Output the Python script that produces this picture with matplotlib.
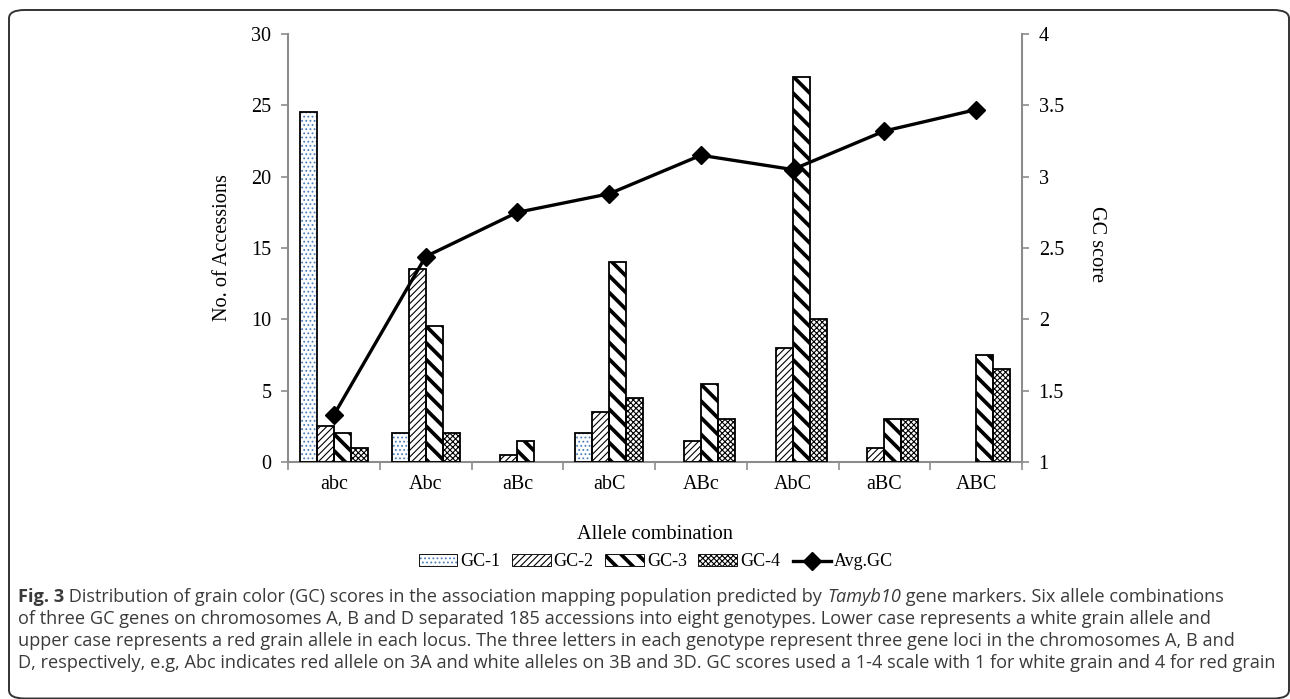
import matplotlib.pyplot as plt
import numpy as np
from matplotlib.patches import FancyBboxPatch, Rectangle
from matplotlib.legend_handler import HandlerTuple

# data
combos = ["abc", "Abc", "aBc", "abC", "ABc", "AbC", "aBC", "ABC"]
gc1 = [24.5, 2, 0, 2, 0, 0, 0, 0]
gc2 = [2.5, 13.5, 0.5, 3.5, 1.5, 8, 1, 0]
gc3 = [2, 9.5, 1.5, 14, 5.5, 27, 3, 7.5]
gc4 = [1, 2, 0, 4.5, 3, 10, 3, 6.5]
avg_gc = [1.33, 2.44, 2.75, 2.88, 3.15, 3.05, 3.32, 3.47]

serif = "Liberation Serif"
sans = "Open Sans"
grey = "#8c8c8c"

fig = plt.figure(figsize=(12.9, 6.99), dpi=100)
W, H = 1290, 699

ax = fig.add_axes([288 / W, 1 - 462 / H, (1022 - 288) / W, (462 - 34) / H])
ax2 = ax.twinx()

x = np.arange(len(combos))
w = 0.185


def bars(vals, k, hatch, hcolor="black", hlw=0.8):
    vals = np.array(vals, dtype=float)
    keep = vals > 0
    xs = x[keep] + (k - 1.5) * w
    b = ax.bar(xs, vals[keep], w, facecolor="white", edgecolor=hcolor,
               hatch=hatch, linewidth=0, zorder=2)
    o = ax.bar(xs, vals[keep], w, fill=False, edgecolor="black",
               linewidth=1.3, zorder=3)
    for p in b:
        p.set_hatch_linewidth(hlw)
    return b, o


h1 = bars(gc1, 0, "....", "#4a7ebb")
h2 = bars(gc2, 1, "/////")
h3 = bars(gc3, 2, "\\\\", hlw=2.7)
h4 = bars(gc4, 3, "xxxxxx")

line, = ax2.plot(x, avg_gc, color="black", lw=2.4, marker="D", markersize=9,
                 zorder=5)
ax.set_zorder(ax2.get_zorder() - 1)
ax2.patch.set_visible(False)

ax.set_xlim(-0.5, len(combos) - 0.5)
ax.set_ylim(0, 30)
ax2.set_ylim(1, 4)
ax.set_yticks(range(0, 31, 5))
ax2.set_yticks([1, 1.5, 2, 2.5, 3, 3.5, 4])
ax2.set_yticklabels(["1", "1.5", "2", "2.5", "3", "3.5", "4"])
ax.set_xticks(x)
ax.set_xticklabels(combos)
ax.set_xticks(np.arange(-0.5, len(combos)), minor=True)

for a in (ax, ax2):
    a.spines["top"].set_visible(False)
    for s in ("left", "right", "bottom"):
        a.spines[s].set_color(grey)
        a.spines[s].set_linewidth(1.5)
ax.spines["right"].set_visible(False)
ax2.spines["left"].set_visible(False)
ax2.spines["bottom"].set_visible(False)

ax.tick_params(axis="y", colors=grey, labelcolor="black", length=5, width=1.2,
               labelsize=14.5, pad=7)
ax2.tick_params(axis="y", colors=grey, labelcolor="black", length=5, width=1.2,
                labelsize=14.5, pad=7)
ax.tick_params(axis="x", which="major", length=0, labelsize=14.5, pad=9.5)
ax.tick_params(axis="x", which="minor", colors=grey, length=6, width=1.2)
for t in ax.get_xticklabels() + ax.get_yticklabels() + ax2.get_yticklabels():
    t.set_fontfamily(serif)

ax.set_ylabel("No. of Accessions", fontfamily=serif, fontsize=14.6, labelpad=14)
ax2.set_ylabel("GC score", fontfamily=serif, fontsize=14.6, rotation=-90,
               va="center", ha="center")
ax2.yaxis.set_label_coords((1097 - 288) / 734, 0.51)
ax.set_xlabel("Allele combination", fontfamily=serif, fontsize=14.6, labelpad=22)

leg = fig.legend([h1[::-1], h2[::-1], h3[::-1], h4[::-1], line],
                 ["GC-1", "GC-2", "GC-3", "GC-4", "Avg.GC"],
                 handler_map={tuple: HandlerTuple(ndivide=1)},
                 loc="center", bbox_to_anchor=(656 / W, 1 - 562 / H), ncol=5,
                 frameon=False, prop={"family": serif, "size": 13},
                 handlelength=2.1, handleheight=0.55, handletextpad=0.15,
                 columnspacing=0.7, numpoints=1)
for p in leg.findobj(Rectangle):
    if p.get_hatch() == "\\\\":
        p.set_hatch_linewidth(2.7)
    elif p.get_hatch():
        p.set_hatch_linewidth(0.8)

# rounded frame round the whole figure
fig.patches.append(FancyBboxPatch((9 / W, 0.5 / H), 1280 / W, 688.5 / H,
                                  boxstyle="round,pad=0,rounding_size=0.012",
                                  transform=fig.transFigure, fill=False,
                                  edgecolor="#333333", lw=1.4))

# caption, built piece by piece to allow bold/italic parts
caption = [
    [("Fig. 3", "bold", "normal"),
     (" Distribution of grain color (GC) scores in the association mapping population predicted by ", "normal", "normal"),
     ("Tamyb10", "normal", "italic"),
     (" gene markers. Six allele combinations", "normal", "normal")],
    [("of three GC genes on chromosomes A, B and D separated 185 accessions into eight genotypes. Lower case represents a white grain allele and", "normal", "normal")],
    [("upper case represents a red grain allele in each locus. The three letters in each genotype represent three gene loci in the chromosomes A, B and", "normal", "normal")],
    [("D, respectively, e.g, Abc indicates red allele on 3A and white alleles on 3B and 3D. GC scores used a 1-4 scale with 1 for white grain and 4 for red grain", "normal", "normal")],
]
line_y = [597, 619, 641, 663]
fig.canvas.draw()
r = fig.canvas.get_renderer()
for parts, yy in zip(caption, line_y):
    xx = 18
    for txt, wgt, sty in parts:
        t = fig.text(xx / W, 1 - yy / H, txt, fontfamily=sans, fontsize=13.1,
                     fontweight=wgt, fontstyle=sty, color="#3a3a3a",
                     va="center", ha="left")
        xx += t.get_window_extent(r).width

fig.savefig("out.png", dpi=100)
